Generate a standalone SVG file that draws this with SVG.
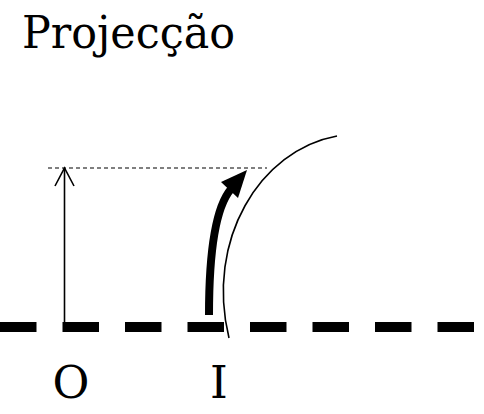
<svg xmlns="http://www.w3.org/2000/svg" width="484" height="414" viewBox="0 0 484 414">
<style>
.t{font-family:"DejaVu Serif","Liberation Serif",serif;fill:#000}
.thin{fill:none;stroke:#000;stroke-width:1.6}
</style>
<rect width="484" height="414" fill="#fff"/>
<text id="title" class="t" x="22" y="48" font-size="45" textLength="213" lengthAdjust="spacingAndGlyphs">Projecção</text>
<g id="axis">
<line x1="0" y1="327" x2="484" y2="327" stroke="#000" stroke-width="10" stroke-dasharray="36.5 26"/>
</g>
<g id="mirror">
<path class="thin" d="M337,136 C260,150 205,240 229,338"/>
</g>
<g id="connectors">
<line x1="64.5" y1="327" x2="64.5" y2="168" class="thin"/>
<polyline points="55,186 64.5,168 74,186" class="thin"/>
<line x1="48" y1="168" x2="267" y2="168" stroke="#000" stroke-width="1.2" stroke-dasharray="4 3"/>
<path d="M209,315 Q209,215 231,189" fill="none" stroke="#000" stroke-width="8"/>
<polygon points="247,170 221,182 238,198" fill="#000"/>
</g>
<g id="labelO"><text class="t" x="71" y="398" font-size="45" text-anchor="middle">O</text></g>
<g id="labelI"><text class="t" x="219" y="398" font-size="45" text-anchor="middle">I</text></g>
</svg>
